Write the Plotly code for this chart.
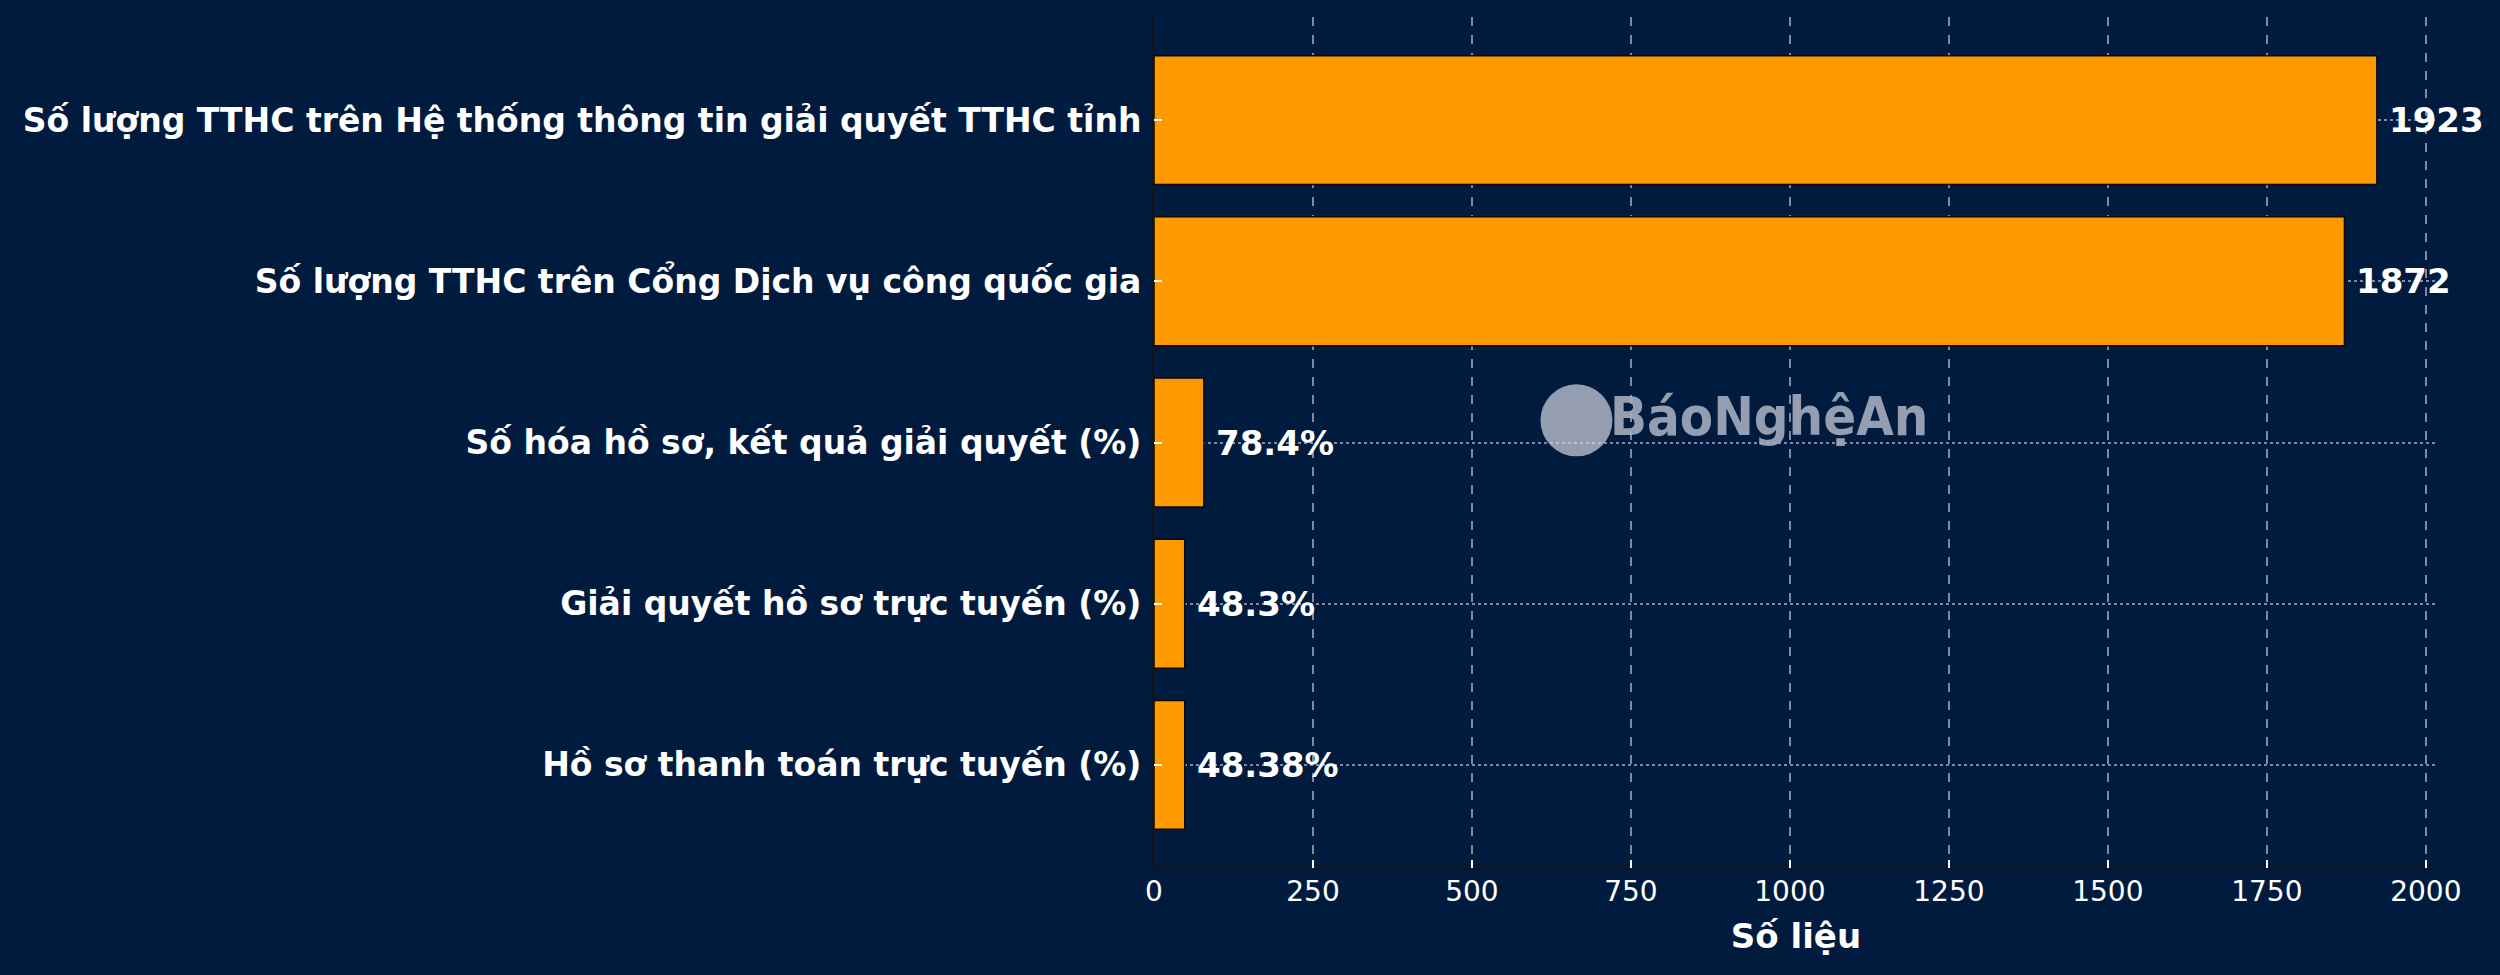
import plotly.graph_objects as go

categories = [
    "Số lượng TTHC trên Hệ thống thông tin giải quyết TTHC tỉnh",
    "Số lượng TTHC trên Cổng Dịch vụ công quốc gia",
    "Số hóa hồ sơ, kết quả giải quyết (%)",
    "Giải quyết hồ sơ trực tuyến (%)",
    "Hồ sơ thanh toán trực tuyến (%)",
]
values = [1923, 1872, 78.4, 48.3, 48.38]
value_labels = ["1923", "1872", "78.4%", "48.3%", "48.38%"]
x_ticks = [0, 250, 500, 750, 1000, 1250, 1500, 1750, 2000]
x_title = "Số liệu"

BG = "#001B3D"
BAR = "#FF9900"
FONT = "DejaVu Sans"
GRID = "rgba(210,215,230,0.6)"
WM = "rgba(165,172,190,0.9)"

fig = go.Figure()
fig.add_trace(go.Bar(
    x=values,
    y=list(range(len(categories))),
    orientation="h",
    width=0.8,
    marker=dict(color=BAR, line=dict(color="#0a0a0a", width=1.5)),
    hoverinfo="skip",
))

for i, (v, lab) in enumerate(zip(values, value_labels)):
    fig.add_annotation(
        x=v, y=i, text=f"<b>{lab}</b>", showarrow=False,
        xanchor="left", yanchor="middle", xshift=10,
        font=dict(family=FONT, size=34, color="white"),
    )

# watermark (logo circle + name)
fig.add_shape(
    type="circle", xref="paper", yref="paper",
    xsizemode="pixel", ysizemode="pixel",
    xanchor=0.329, yanchor=0.526,
    x0=-36, x1=36, y0=-36, y1=36,
    fillcolor=WM, line=dict(width=0), layer="below",
)
fig.add_annotation(
    x=0.479, y=0.53, xref="paper", yref="paper",
    text="<b>BáoNghệAn</b>", showarrow=False,
    xanchor="center", yanchor="middle",
    font=dict(family="DejaVu Sans Condensed", size=54, color=WM),
)

fig.update_layout(
    width=2500, height=975,
    paper_bgcolor=BG, plot_bgcolor=BG,
    margin=dict(l=1154, r=62, t=17, b=107, autoexpand=False),
    showlegend=False,
    font=dict(family=FONT, color="white"),
    bargap=0.2,
)

fig.update_xaxes(
    range=[0, 1923 * 1.05],
    tickvals=x_ticks,
    ticktext=[str(t) for t in x_ticks],
    tickfont=dict(family=FONT, size=28, color="white"),
    ticks="inside", ticklen=8, tickwidth=2, tickcolor="white",
    ticklabelstandoff=-3,
    showgrid=True, gridcolor=GRID, gridwidth=1.5, griddash="dash",
    showline=True, linecolor="#101418", linewidth=2,
    zeroline=False,
    layer="above traces",
    title=dict(text=f"<b>{x_title}</b>", font=dict(family=FONT, size=34, color="white"), standoff=18),
)

fig.update_yaxes(
    range=[len(categories) - 1 + 0.64, -0.64],
    tickvals=list(range(len(categories))),
    ticktext=[f"<b>{c}</b>" for c in categories],
    tickfont=dict(family=FONT, size=33, color="white"),
    ticks="inside", ticklen=8, tickwidth=2, tickcolor="white",
    ticklabelstandoff=4,
    showgrid=True, gridcolor=GRID, gridwidth=1.5, griddash="dot",
    showline=True, linecolor="#101418", linewidth=2,
    zeroline=False,
    layer="above traces",
)

fig.write_html(
    "out.html",
    config={"displayModeBar": False},
    post_script="document.body.style.margin='0';document.body.style.background='" + BG + "';",
)
